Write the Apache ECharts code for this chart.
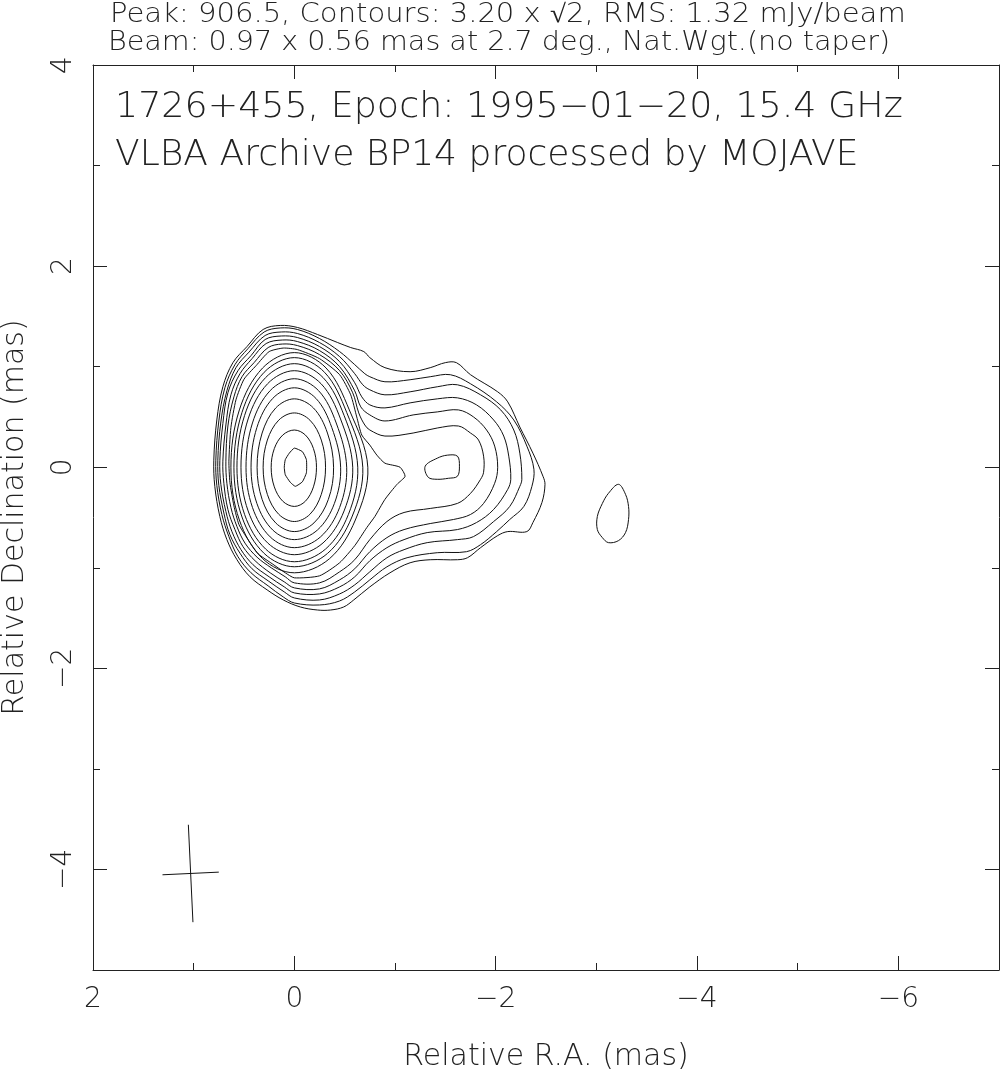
<!DOCTYPE html>
<html><head><meta charset="utf-8">
<script src="https://cdn.jsdelivr.net/npm/echarts@6/dist/echarts.min.js"></script>
<style>html,body{margin:0;padding:0;background:#fff}#c{width:1001px;height:1079px}</style>
</head><body><div id="c"></div>
<script>
// ---- axes ----
const xRange = [-7, 2];
const yRange = [-5, 4];
const xMajorTicks = [2, 0, -2, -4, -6];
const xMinorTicks = [1, -1, -3, -5, -7];
const yMajorTicks = [4, 2, 0, -2, -4];
const yMinorTicks = [3, 1, -1, -3, -5];

// ---- texts ----
const headerLine1 = 'Peak: 906.5, Contours: 3.20 x \u221A2, RMS: 1.32 mJy/beam';
const headerLine2 = 'Beam: 0.97 x 0.56 mas at 2.7 deg., Nat.Wgt.(no taper)';
const sourceLine1 = '1726+455, Epoch: 1995\u221201\u221220, 15.4 GHz';
const sourceLine2 = 'VLBA Archive BP14 processed by MOJAVE';
const xName = 'Relative R.A. (mas)';
const yName = 'Relative Declination (mas)';

// ---- beam ----
const beamMajor = 0.97, beamMinor = 0.56, beamPA = 2.7;
const beamCenter = [1.03, -4.04];

// ---- contour levels (mJy/beam), outermost first ----
const contourLevels = [3.2, 4.53, 6.4, 9.05, 12.8, 18.1, 25.6, 36.2, 51.2, 72.4, 102.4, 144.8, 204.8, 289.6, 409.6, 579.2, 819.2];

// ---- traced contours [RA, Dec] in mas ----
const contour01 = [[0.14,1.41],[-0.03,1.39],[-0.23,1.32],[-0.43,1.24],[-0.56,1.19],[-0.69,1.15],[-0.75,1.09],[-0.90,0.99],[-1.15,0.95],[-1.35,0.99],[-1.50,1.04],[-1.61,1.04],[-1.75,0.92],[-2.02,0.75],[-2.12,0.65],[-2.24,0.40],[-2.37,0.14],[-2.47,-0.09],[-2.49,-0.17],[-2.46,-0.35],[-2.37,-0.55],[-2.31,-0.64],[-2.12,-0.64],[-2.02,-0.68],[-1.85,-0.80],[-1.72,-0.90],[-1.62,-0.92],[-1.35,-0.92],[-1.15,-0.95],[-0.95,-1.05],[-0.75,-1.19],[-0.59,-1.32],[-0.49,-1.39],[-0.36,-1.42],[-0.23,-1.42],[-0.06,-1.39],[0.11,-1.32],[0.27,-1.22],[0.44,-1.09],[0.57,-0.92],[0.67,-0.72],[0.74,-0.49],[0.79,-0.19],[0.80,0.07],[0.77,0.47],[0.71,0.80],[0.61,1.04],[0.47,1.20],[0.31,1.37]];
const contour01b = [[-3.22,-0.17],[-3.29,-0.27],[-3.32,-0.39],[-3.32,-0.52],[-3.29,-0.65],[-3.22,-0.73],[-3.12,-0.75],[-3.06,-0.70],[-3.01,-0.62],[-3.01,-0.49],[-3.06,-0.36],[-3.12,-0.26]];
const contour02 = [[0.14,1.385],[-0.03,1.37],[-0.25,1.28],[-0.45,1.15],[-0.60,1.02],[-0.70,0.93],[-0.75,0.90],[-0.90,0.85],[-1.15,0.87],[-1.35,0.90],[-1.55,0.92],[-1.75,0.83],[-2.01,0.65],[-2.18,0.47],[-2.31,0.21],[-2.38,-0.02],[-2.36,-0.19],[-2.28,-0.39],[-2.14,-0.52],[-2.01,-0.64],[-1.85,-0.77],[-1.71,-0.84],[-1.42,-0.85],[-1.12,-0.90],[-0.92,-0.99],[-0.75,-1.12],[-0.60,-1.24],[-0.45,-1.33],[-0.25,-1.37],[0.0,-1.35],[0.11,-1.29],[0.26,-1.18],[0.43,-1.05],[0.56,-0.89],[0.65,-0.69],[0.72,-0.47],[0.77,-0.18],[0.78,0.07],[0.75,0.46],[0.69,0.79],[0.59,1.02],[0.46,1.18],[0.30,1.345]];
const contour03 = [[0.13,1.345],[-0.03,1.33],[-0.25,1.24],[-0.45,1.10],[-0.60,0.93],[-0.68,0.82],[-0.75,0.77],[-0.90,0.72],[-1.15,0.75],[-1.42,0.80],[-1.62,0.82],[-1.85,0.72],[-2.05,0.57],[-2.18,0.37],[-2.24,0.14],[-2.26,-0.12],[-2.24,-0.19],[-2.14,-0.39],[-1.98,-0.54],[-1.78,-0.69],[-1.62,-0.72],[-1.32,-0.75],[-1.09,-0.82],[-0.92,-0.90],[-0.75,-1.04],[-0.60,-1.17],[-0.45,-1.26],[-0.25,-1.32],[0.0,-1.30],[0.10,-1.24],[0.26,-1.13],[0.42,-1.01],[0.54,-0.855],[0.64,-0.67],[0.70,-0.455],[0.75,-0.18],[0.76,0.07],[0.73,0.45],[0.67,0.76],[0.58,0.99],[0.45,1.145],[0.29,1.31]];
const contour04 = [[0.13,1.305],[-0.03,1.29],[-0.25,1.20],[-0.45,1.05],[-0.60,0.84],[-0.67,0.70],[-0.75,0.62],[-0.90,0.59],[-1.15,0.64],[-1.42,0.68],[-1.62,0.69],[-1.81,0.62],[-1.98,0.47],[-2.08,0.31],[-2.13,0.11],[-2.15,-0.12],[-2.12,-0.22],[-1.98,-0.42],[-1.81,-0.55],[-1.62,-0.62],[-1.32,-0.65],[-1.09,-0.72],[-0.92,-0.80],[-0.75,-0.93],[-0.60,-1.09],[-0.45,-1.19],[-0.25,-1.26],[0.0,-1.25],[0.10,-1.19],[0.25,-1.09],[0.41,-0.97],[0.53,-0.82],[0.62,-0.64],[0.68,-0.44],[0.73,-0.17],[0.74,0.065],[0.71,0.435],[0.66,0.74],[0.56,0.96],[0.43,1.11],[0.29,1.27]];
const contour05 = [[0.12,1.265],[-0.03,1.25],[-0.25,1.16],[-0.45,1.00],[-0.60,0.76],[-0.66,0.60],[-0.75,0.52],[-0.90,0.46],[-1.18,0.52],[-1.42,0.55],[-1.63,0.57],[-1.78,0.50],[-1.91,0.37],[-1.99,0.21],[-2.02,0.0],[-1.99,-0.16],[-1.88,-0.36],[-1.75,-0.47],[-1.58,-0.52],[-1.35,-0.56],[-1.09,-0.62],[-0.92,-0.70],[-0.75,-0.84],[-0.60,-1.01],[-0.45,-1.12],[-0.25,-1.21],[0.0,-1.20],[0.10,-1.14],[0.24,-1.05],[0.39,-0.93],[0.51,-0.79],[0.59,-0.62],[0.66,-0.42],[0.70,-0.16],[0.71,0.06],[0.68,0.42],[0.63,0.72],[0.54,0.93],[0.42,1.08],[0.28,1.23]];
const contour06 = [[0.12,1.225],[-0.03,1.21],[-0.25,1.12],[-0.45,0.96],[-0.58,0.74],[-0.64,0.54],[-0.70,0.42],[-0.75,0.37],[-0.90,0.31],[-1.18,0.34],[-1.42,0.39],[-1.63,0.41],[-1.75,0.34],[-1.83,0.27],[-1.88,0.11],[-1.88,-0.05],[-1.85,-0.12],[-1.75,-0.26],[-1.62,-0.36],[-1.35,-0.41],[-1.09,-0.45],[-0.92,-0.54],[-0.75,-0.72],[-0.60,-0.92],[-0.45,-1.04],[-0.25,-1.15],[0.0,-1.15],[0.09,-1.09],[0.23,-1.00],[0.37,-0.895],[0.49,-0.755],[0.57,-0.59],[0.63,-0.40],[0.67,-0.16],[0.68,0.06],[0.66,0.41],[0.60,0.70],[0.52,0.90],[0.40,1.04],[0.26,1.19]];
const contour07 = [[0.11,1.185],[-0.03,1.17],[-0.25,1.08],[-0.45,0.92],[-0.56,0.72],[-0.62,0.50],[-0.67,0.32],[-0.75,0.22],[-0.82,0.12],[-0.90,0.04],[-1.05,0.00],[-1.10,-0.09],[-1.02,-0.17],[-0.90,-0.32],[-0.80,-0.49],[-0.72,-0.60],[-0.60,-0.78],[-0.45,-0.95],[-0.25,-1.08],[0.0,-1.10],[0.09,-1.05],[0.22,-0.96],[0.36,-0.86],[0.46,-0.72],[0.55,-0.57],[0.60,-0.385],[0.64,-0.15],[0.65,0.06],[0.63,0.395],[0.58,0.67],[0.50,0.875],[0.38,1.01],[0.25,1.15]];
const contour07b = [[-1.30,0.01],[-1.42,0.09],[-1.52,0.12],[-1.62,0.11],[-1.64,0.01],[-1.62,-0.09],[-1.53,-0.11],[-1.42,-0.12],[-1.33,-0.10]];
const contour08 = [[0,1.14],[0.315,0.987],[0.546,0.57],[0.63,0],[0.546,-0.525],[0.315,-0.909],[0,-1.05],[-0.35,-0.909],[-0.606,-0.525],[-0.73,0],[-0.546,0.57],[-0.315,0.987]];
const contour09 = [[0,1.09],[0.30,0.944],[0.52,0.545],[0.60,0],[0.52,-0.495],[0.30,-0.857],[0,-0.99],[-0.33,-0.857],[-0.572,-0.495],[-0.68,0],[-0.52,0.545],[-0.30,0.944]];
const contour10 = [[0,1.03],[0.285,0.892],[0.494,0.515],[0.57,0],[0.494,-0.47],[0.285,-0.814],[0,-0.94],[-0.31,-0.814],[-0.537,-0.47],[-0.63,0],[-0.494,0.515],[-0.285,0.892]];
const contour11 = [[0,0.96],[0.265,0.831],[0.459,0.48],[0.53,0],[0.459,-0.435],[0.265,-0.753],[0,-0.87],[-0.285,-0.753],[-0.494,-0.435],[-0.58,0],[-0.459,0.48],[-0.265,0.831]];
const contour12 = [[0,0.88],[0.24,0.762],[0.416,0.44],[0.48,0],[0.416,-0.40],[0.24,-0.693],[0,-0.80],[-0.26,-0.693],[-0.45,-0.40],[-0.52,0],[-0.416,0.44],[-0.24,0.762]];
const contour13 = [[0,0.79],[0.215,0.684],[0.372,0.395],[0.43,0],[0.372,-0.36],[0.215,-0.624],[0,-0.72],[-0.23,-0.624],[-0.398,-0.36],[-0.46,0],[-0.372,0.395],[-0.215,0.684]];
const contour14 = [[0,0.68],[0.185,0.589],[0.32,0.34],[0.37,0],[0.32,-0.32],[0.185,-0.554],[0,-0.64],[-0.195,-0.554],[-0.338,-0.32],[-0.39,0],[-0.329,0.34],[-0.19,0.589]];
const contour15 = [[0,0.54],[0.155,0.468],[0.268,0.27],[0.31,0],[0.268,-0.27],[0.155,-0.468],[0,-0.54],[-0.155,-0.468],[-0.268,-0.27],[-0.31,0],[-0.268,0.27],[-0.155,0.468]];
const contour16 = [[0,0.37],[0.115,0.32],[0.199,0.185],[0.23,0],[0.199,-0.195],[0.115,-0.338],[0,-0.39],[-0.11,-0.338],[-0.19,-0.195],[-0.22,0],[-0.19,0.185],[-0.11,0.32]];
const contour17 = [[0,0.19],[-0.08,0.155],[-0.12,0.075],[-0.12,-0.055],[-0.08,-0.145],[-0.01,-0.19],[0.04,-0.15],[0.09,-0.075],[0.10,0],[0.09,0.075],[0.05,0.14]];

const contours = [
  {name: 'L01', pts: contour01}, {name: 'L01b', pts: contour01b},
  {name: 'L02', pts: contour02}, {name: 'L03', pts: contour03},
  {name: 'L04', pts: contour04}, {name: 'L05', pts: contour05},
  {name: 'L06', pts: contour06}, {name: 'L07', pts: contour07, smooth: 0.2},
  {name: 'L07b', pts: contour07b}, {name: 'L08', pts: contour08},
  {name: 'L09', pts: contour09}, {name: 'L10', pts: contour10},
  {name: 'L11', pts: contour11}, {name: 'L12', pts: contour12},
  {name: 'L13', pts: contour13}, {name: 'L14', pts: contour14},
  {name: 'L15', pts: contour15}, {name: 'L16', pts: contour16},
  {name: 'L17', pts: contour17, smooth: 0.15}
];

const FONT = 'DejaVu Sans';
const FW = 200;
const INK = '#222';
const fmt = v => (v < 0 ? '\u2212' + Math.abs(v) : String(v));

function contourSeries(c) {
  return {
    type: 'custom', name: c.name, xAxisIndex: 0, yAxisIndex: 0,
    data: c.pts, encode: {x: 0, y: 1}, silent: true, animation: false, clip: true,
    renderItem: function (params, api) {
      if (params.dataIndex !== 0) return null;
      const points = c.pts.map(p => api.coord(p));
      return {type: 'polygon', shape: {points: points, smooth: c.smooth == null ? 0.35 : c.smooth},
        style: {fill: 'none', stroke: '#111', lineWidth: 1}};
    }
  };
}

const rad = beamPA * Math.PI / 180;
const beamMajorLine = [
  [beamCenter[0] + beamMajor / 2 * Math.sin(rad), beamCenter[1] + beamMajor / 2 * Math.cos(rad)],
  [beamCenter[0] - beamMajor / 2 * Math.sin(rad), beamCenter[1] - beamMajor / 2 * Math.cos(rad)]
];
const beamMinorLine = [
  [beamCenter[0] + beamMinor / 2 * Math.cos(rad), beamCenter[1] - beamMinor / 2 * Math.sin(rad)],
  [beamCenter[0] - beamMinor / 2 * Math.cos(rad), beamCenter[1] + beamMinor / 2 * Math.sin(rad)]
];

function xAxisDef(pos, ticks, len, showLine, showLabel) {
  return {
    type: 'value', min: xRange[0], max: xRange[1], inverse: true, position: pos,
    axisLine: {show: showLine, onZero: false, lineStyle: {color: INK, width: 1}},
    axisTick: {show: true, inside: true, length: len, customValues: ticks, lineStyle: {color: INK, width: 1}},
    axisLabel: {show: showLabel, customValues: ticks, formatter: fmt, fontFamily: FONT, fontWeight: FW, fontSize: 28, color: INK, margin: 16},
    splitLine: {show: false}
  };
}
function yAxisDef(pos, ticks, len, showLine, showLabel) {
  return {
    type: 'value', min: yRange[0], max: yRange[1], position: pos,
    axisLine: {show: showLine, onZero: false, lineStyle: {color: INK, width: 1}},
    axisTick: {show: true, inside: true, length: len, customValues: ticks, lineStyle: {color: INK, width: 1}},
    axisLabel: {show: showLabel, customValues: ticks, formatter: fmt, rotate: 90, fontFamily: FONT, fontWeight: FW, fontSize: 28, color: INK, margin: 15},
    splitLine: {show: false}
  };
}

const xAxes = [
  Object.assign(xAxisDef('bottom', xMajorTicks, 14, true, true), {name: xName, nameLocation: 'middle', nameGap: 72,
    nameTextStyle: {fontFamily: FONT, fontWeight: FW, fontSize: 30, color: INK}}),
  xAxisDef('bottom', xMinorTicks, 7, false, false),
  xAxisDef('top', xMajorTicks, 14, true, false),
  xAxisDef('top', xMinorTicks, 7, false, false)
];
const yAxes = [
  Object.assign(yAxisDef('left', yMajorTicks, 14, true, true), {name: yName, nameLocation: 'middle', nameGap: 63, nameRotate: 90,
    nameTextStyle: {fontFamily: FONT, fontWeight: FW, fontSize: 30, color: INK}}),
  yAxisDef('left', yMinorTicks, 7, false, false),
  yAxisDef('right', yMajorTicks, 14, true, false),
  yAxisDef('right', yMinorTicks, 7, false, false)
];

const series = contours.map(contourSeries);
series.push({type: 'line', name: 'beamMajor', data: beamMajorLine, xAxisIndex: 0, yAxisIndex: 0, symbol: 'none',
  lineStyle: {color: '#111', width: 1}, silent: true, animation: false});
series.push({type: 'line', name: 'beamMinor', data: beamMinorLine, xAxisIndex: 0, yAxisIndex: 0, symbol: 'none',
  lineStyle: {color: '#111', width: 1}, silent: true, animation: false});

function textEl(str, x, y, size, sx) {
  return {type: 'text', x: x, y: y, scaleX: sx, scaleY: 1, silent: true,
    style: {text: str, fontFamily: FONT, fontWeight: FW, fontSize: size, fill: INK, align: 'left', verticalAlign: 'middle'}};
}

const chart = echarts.init(document.getElementById('c'), null, {renderer: 'canvas'});
chart.setOption({
  animation: false,
  backgroundColor: '#fff',
  grid: {left: 93, right: 2, top: 65, bottom: 109, containLabel: false, outerBoundsMode: 'none'},
  graphic: [
    textEl(headerLine1, 110, 15, 26, 1.117),
    textEl(headerLine2, 108, 43, 26, 1.10),
    textEl(sourceLine1, 115, 108, 35, 1.04),
    textEl(sourceLine2, 115, 156, 35, 1.03)
  ],
  xAxis: xAxes,
  yAxis: yAxes,
  series: series
});
</script>
</body></html>
